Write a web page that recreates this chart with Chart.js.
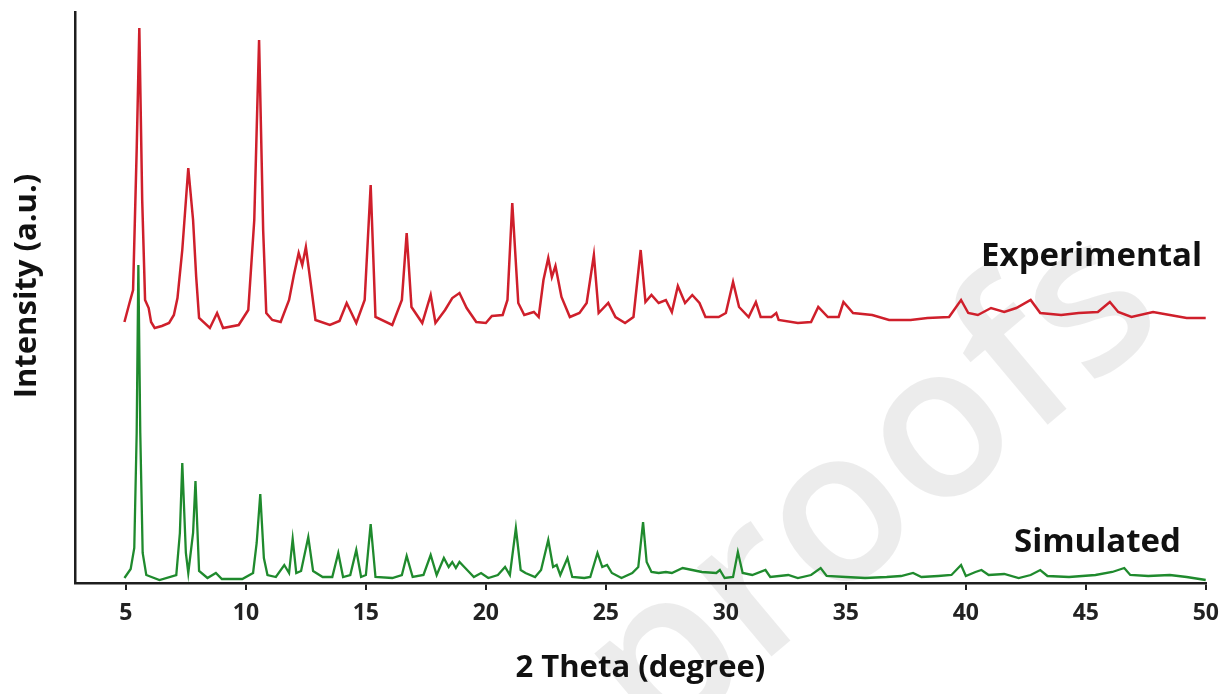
<!DOCTYPE html>
<html>
<head>
<meta charset="utf-8">
<script src="https://cdn.jsdelivr.net/npm/chart.js@4.4.0/dist/chart.umd.min.js"></script>
<style>
  html, body { margin: 0; padding: 0; background: #fff; }
  canvas { display: block; }
</style>
</head>
<body>
<canvas id="xrd" width="1229" height="694"></canvas>
<script>
// 2 theta positions / intensities (experimental is offset upward)
const expTheta = [
  4.94, 5.15, 5.3, 5.45, 5.56, 5.68, 5.8, 5.95, 6.05, 6.2, 6.5, 6.8, 7.0, 7.15, 7.35, 7.6, 7.8, 7.93, 8.05, 8.5,
  8.8, 9.05, 9.7, 10.1, 10.35, 10.55, 10.72, 10.85, 11.1, 11.45, 11.8, 12.0, 12.2, 12.35, 12.5, 12.7, 12.9, 13.5, 13.9, 14.2,
  14.6, 14.95, 15.2, 15.4, 16.1, 16.5, 16.7, 16.9, 17.35, 17.7, 17.9, 18.3, 18.6, 18.9, 19.2, 19.6, 20.0, 20.25, 20.7, 20.9,
  21.1, 21.35, 21.6, 22.0, 22.2, 22.4, 22.6, 22.75, 22.9, 23.15, 23.5, 23.9, 24.2, 24.5, 24.7, 25.1, 25.4, 25.8, 26.15, 26.45,
  26.65, 26.9, 27.2, 27.5, 27.75, 28.0, 28.3, 28.6, 28.9, 29.15, 29.7, 30.0, 30.3, 30.55, 30.95, 31.25, 31.45, 31.9, 32.1, 32.2,
  33.0, 33.55, 33.85, 34.25, 34.7, 34.9, 35.3, 36.1, 36.8, 37.7, 38.4, 39.3, 39.8, 40.1, 40.5, 41.05, 41.6, 42.1, 42.7, 43.1,
  43.97, 44.7, 45.5, 46.0, 46.35, 46.9, 47.8, 48.5, 49.2, 50.0
];
const expIntensity = [
  261, 280, 293, 433, 555, 383, 283, 275, 261, 255, 257, 260, 268, 285, 333, 415, 363, 306, 265, 255,
  270, 255, 258, 273, 363, 543, 353, 270, 263, 261, 283, 308, 330, 318, 336, 300, 263, 258, 262, 280,
  260, 283, 398, 266, 258, 283, 350, 276, 260, 288, 260, 273, 285, 290, 275, 261, 260, 267, 268, 283,
  380, 280, 268, 271, 266, 303, 325, 306, 317, 286, 266, 270, 280, 328, 270, 280, 266, 260, 266, 333,
  281, 288, 280, 283, 271, 297, 280, 288, 280, 266, 266, 270, 301, 276, 266, 281, 266, 266, 270, 263,
  260, 261, 276, 266, 266, 281, 270, 268, 263, 263, 265, 266, 283, 270, 268, 275, 271, 275, 283, 270,
  268, 270, 271, 281, 271, 266, 271, 268, 265, 265
];

const simTheta = [
  4.94, 5.2, 5.35, 5.45, 5.52, 5.6, 5.7, 5.85, 6.4, 7.1, 7.25, 7.35, 7.5, 7.6, 7.8, 7.9, 8.05, 8.4, 8.75, 9.0,
  9.85, 10.3, 10.45, 10.6, 10.75, 10.9, 11.25, 11.6, 11.8, 11.95, 12.1, 12.3, 12.6, 12.8, 13.2, 13.6, 13.85, 14.05, 14.35, 14.6,
  14.8, 15.0, 15.2, 15.4, 16.1, 16.5, 16.7, 16.95, 17.4, 17.7, 17.95, 18.25, 18.45, 18.6, 18.75, 18.9, 19.1, 19.3, 19.5, 19.8,
  20.1, 20.5, 20.8, 21.0, 21.25, 21.45, 21.65, 22.05, 22.3, 22.6, 22.8, 22.95, 23.1, 23.4, 23.6, 24.1, 24.35, 24.65, 24.85, 25.05,
  25.25, 25.65, 26.1, 26.35, 26.55, 26.7, 26.9, 27.2, 27.5, 27.75, 28.2, 28.6, 29.0, 29.6, 29.75, 29.95, 30.3, 30.5, 30.7, 31.1,
  31.65, 31.85, 32.6, 33.0, 33.55, 33.95, 34.2, 35.0, 35.8, 36.7, 37.3, 37.8, 38.15, 38.85, 39.4, 39.8, 40.0, 40.4, 40.65, 40.95,
  41.6, 42.2, 42.7, 43.1, 43.4, 44.3, 45.4, 46.1, 46.6, 46.85, 47.6, 48.5, 49.2, 50.0
];
const simIntensity = [
  5, 14, 35, 150, 318, 150, 30, 8, 3, 8, 50, 120, 30, 10, 50, 102, 12, 5, 10, 4,
  4, 10, 40, 89, 25, 8, 6, 18, 10, 44, 10, 12, 46, 12, 6, 6, 30, 6, 8, 33,
  6, 8, 59, 6, 5, 8, 27, 6, 8, 28, 8, 25, 16, 21, 15, 21, 16, 11, 6, 10,
  5, 8, 16, 8, 55, 13, 10, 6, 13, 43, 16, 18, 8, 25, 6, 5, 6, 30, 16, 18,
  10, 5, 10, 16, 61, 21, 11, 10, 11, 10, 15, 13, 11, 10, 13, 5, 6, 31, 10, 8,
  13, 6, 8, 5, 8, 15, 7, 6, 5, 6, 7, 10, 6, 7, 8, 18, 7, 11, 13, 8,
  9, 5, 8, 13, 7, 6, 8, 11, 15, 8, 7, 8, 6, 3
];

const thetaTicks = [5, 10, 15, 20, 25, 30, 35, 40, 45, 50];
const thetaMin = 2.88;
const thetaMax = 50;
const intensityMax = 571;

const toPoints = (xs, ys) => xs.map((x, i) => ({ x: x, y: ys[i] }));

const axisColor = "#1e1e1e";
const textFont = "'Open Sans', 'Liberation Sans', sans-serif";

// background, watermark and the text labels
const decorations = {
  id: "decorations",
  beforeDraw(chart) {
    const c = chart.ctx;
    c.save();
    c.fillStyle = "#fff";
    c.fillRect(0, 0, chart.width, chart.height);
    c.translate(1170, 322);
    c.rotate(-40 * Math.PI / 180);
    c.font = "600 215px " + textFont;
    c.fillStyle = "rgba(0,0,0,0.075)";
    c.textAlign = "right";
    c.textBaseline = "alphabetic";
    c.fillText("Journal Pre-proofs", 0, 0);
    c.restore();
  },
  afterDraw(chart) {
    const c = chart.ctx;
    const area = chart.chartArea;
    c.save();
    c.fillStyle = "#111";
    c.textBaseline = "alphabetic";
    c.textAlign = "right";
    c.font = "bold 33px " + textFont;
    c.fillText("Experimental", 1202, 266);
    c.fillText("Simulated", 1181, 552);

    c.textAlign = "center";
    c.textBaseline = "middle";
    c.font = "bold 31px " + textFont;
    c.fillText("2 Theta (degree)", (area.left + area.right) / 2, 668);

    c.translate(27, 286);
    c.rotate(-Math.PI / 2);
    c.fillText("Intensity (a.u.)", 0, 0);
    c.restore();
  }
};

new Chart(document.getElementById("xrd"), {
  type: "scatter",
  data: {
    datasets: [
      {
        label: "Experimental",
        data: toPoints(expTheta, expIntensity),
        showLine: true,
        borderColor: "#cf1f2b",
        borderWidth: 2.5,
        pointRadius: 0,
        tension: 0
      },
      {
        label: "Simulated",
        data: toPoints(simTheta, simIntensity),
        showLine: true,
        borderColor: "#1f8a2d",
        borderWidth: 2.3,
        pointRadius: 0,
        tension: 0
      }
    ]
  },
  options: {
    responsive: false,
    animation: false,
    layout: { padding: { left: 75, right: 21, top: 12, bottom: 0 } },
    plugins: {
      legend: { display: false },
      tooltip: { enabled: false }
    },
    scales: {
      x: {
        type: "linear",
        min: thetaMin,
        max: thetaMax,
        afterBuildTicks: (scale) => {
          scale.ticks = thetaTicks.map((v) => ({ value: v }));
        },
        afterFit: (scale) => { scale.height = 111; },
        grid: {
          display: true,
          drawOnChartArea: false,
          drawTicks: true,
          tickLength: 7,
          color: axisColor,
          lineWidth: 2
        },
        border: { display: true, color: axisColor, width: 2.5 },
        ticks: {
          autoSkip: false,
          maxRotation: 0,
          padding: 10,
          color: "#222",
          font: { family: textFont, weight: "bold", size: 23 }
        }
      },
      y: {
        min: 0,
        max: intensityMax,
        afterFit: (scale) => { scale.width = 0; },
        ticks: { display: false },
        grid: { display: false, drawTicks: false },
        border: { display: true, color: axisColor, width: 2.5 }
      }
    }
  },
  plugins: [decorations]
});
</script>
</body>
</html>
